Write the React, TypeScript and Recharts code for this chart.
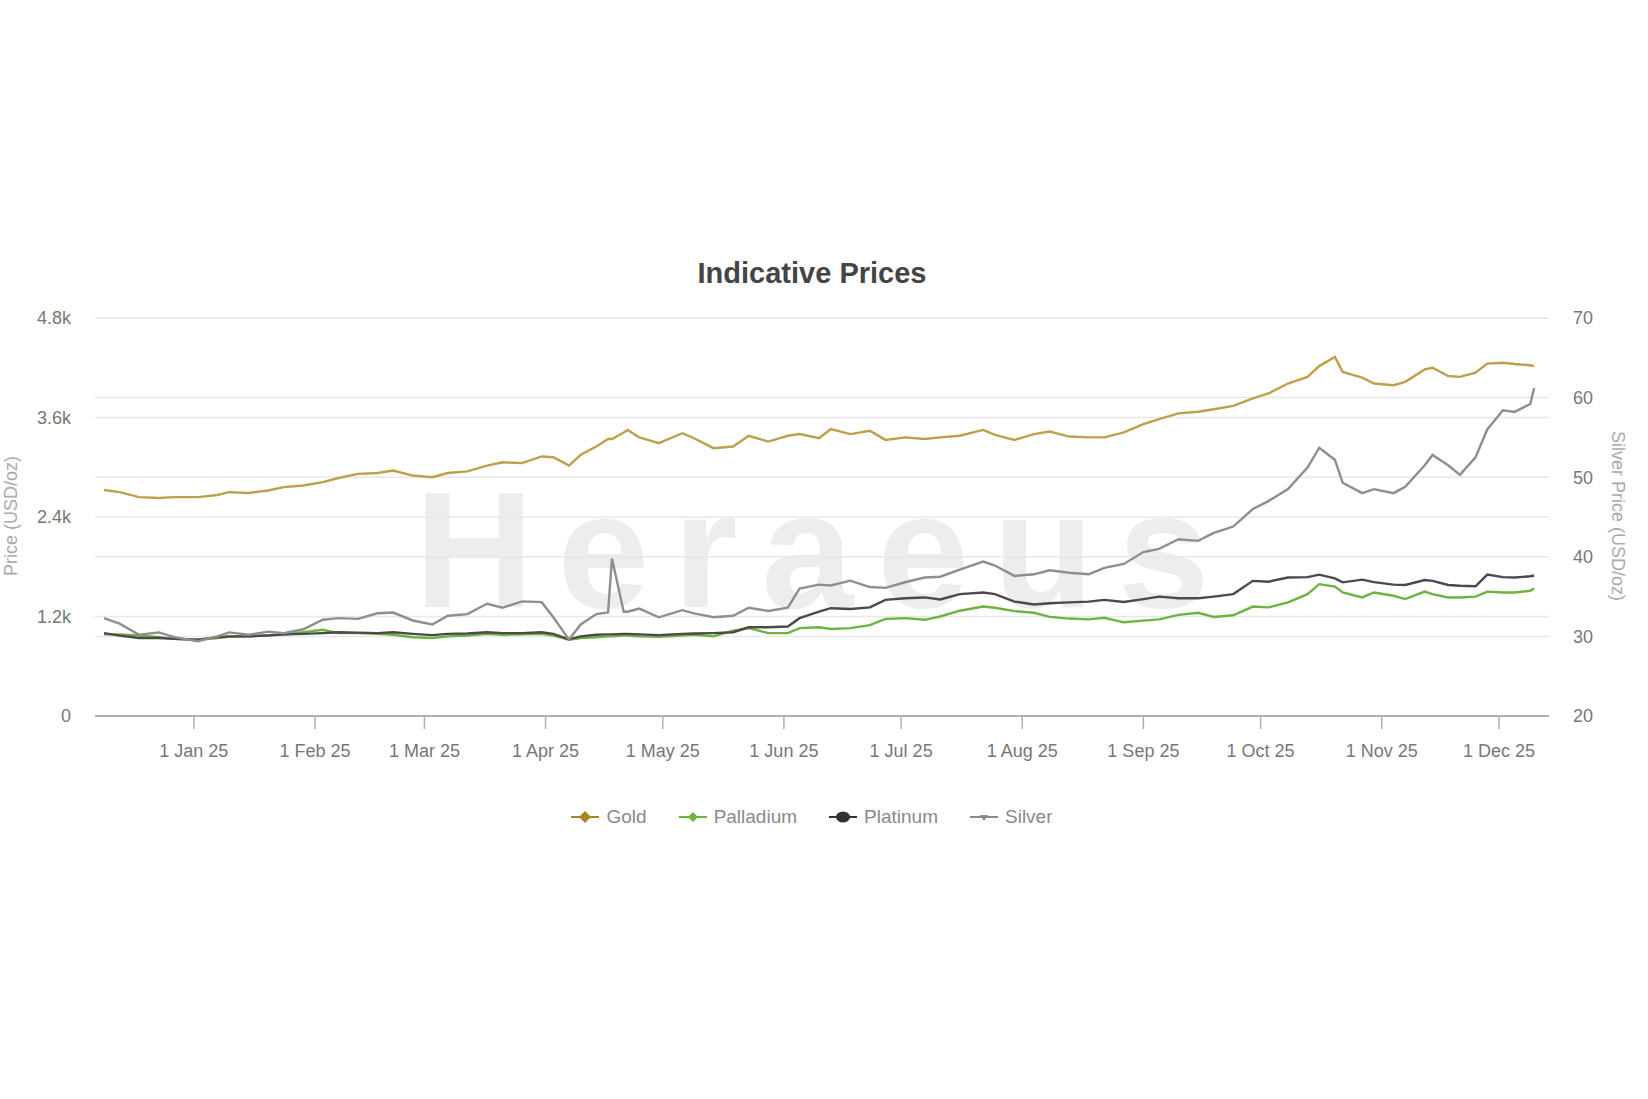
import React from 'react';
import { LineChart, Line, XAxis, YAxis, CartesianGrid } from 'recharts';

const dates = [
  '2024-12-09', '2024-12-13', '2024-12-18', '2024-12-23', '2024-12-27', '2025-01-02', '2025-01-07', '2025-01-10', '2025-01-15', '2025-01-20',
  '2025-01-24', '2025-01-29', '2025-02-03', '2025-02-07', '2025-02-12', '2025-02-17', '2025-02-21', '2025-02-26', '2025-03-03', '2025-03-07',
  '2025-03-12', '2025-03-17', '2025-03-21', '2025-03-26', '2025-03-31', '2025-04-03', '2025-04-07', '2025-04-10', '2025-04-14', '2025-04-17',
  '2025-04-18', '2025-04-21', '2025-04-22', '2025-04-25', '2025-04-30', '2025-05-06', '2025-05-09', '2025-05-14', '2025-05-19', '2025-05-23',
  '2025-05-28', '2025-06-02', '2025-06-05', '2025-06-10', '2025-06-13', '2025-06-18', '2025-06-23', '2025-06-27', '2025-07-02', '2025-07-07',
  '2025-07-11', '2025-07-16', '2025-07-22', '2025-07-25', '2025-07-30', '2025-08-04', '2025-08-08', '2025-08-13', '2025-08-18', '2025-08-22',
  '2025-08-27', '2025-09-01', '2025-09-05', '2025-09-10', '2025-09-15', '2025-09-19', '2025-09-24', '2025-09-29', '2025-10-03', '2025-10-08',
  '2025-10-13', '2025-10-16', '2025-10-20', '2025-10-22', '2025-10-27', '2025-10-30', '2025-11-04', '2025-11-07', '2025-11-12', '2025-11-14',
  '2025-11-18', '2025-11-21', '2025-11-25', '2025-11-28', '2025-12-02', '2025-12-05', '2025-12-09', '2025-12-10',
];

const gold = [
  2726, 2700, 2640, 2630, 2640, 2640, 2665, 2700, 2690, 2720,
  2760, 2780, 2820, 2870, 2920, 2930, 2960, 2900, 2880, 2930,
  2950, 3020, 3060, 3050, 3130, 3120, 3020, 3150, 3250, 3340,
  3340, 3420, 3450, 3360, 3290, 3410, 3350, 3230, 3250, 3380,
  3310, 3380, 3400, 3350, 3460, 3400, 3440, 3330, 3360, 3340,
  3360, 3380, 3450, 3390, 3330, 3400, 3430, 3370, 3360, 3360,
  3420, 3520, 3580, 3650, 3670, 3700, 3740, 3830, 3890, 4010,
  4090, 4220, 4330, 4150, 4080, 4010, 3990, 4030, 4180, 4200,
  4100, 4090, 4140, 4250, 4260, 4245, 4230, 4220,
];

const palladium = [
  985, 985, 970, 950, 930, 920, 940, 955, 960, 975,
  980, 1010, 1040, 1000, 1000, 990, 980, 950, 940, 960,
  970, 990, 980, 985, 990, 970, 920, 940, 950, 960,
  960, 970, 970, 960, 955, 970, 980, 960, 1030, 1060,
  1000, 1000, 1060, 1070, 1050, 1060, 1095, 1170, 1180, 1160,
  1200, 1270, 1320, 1305, 1265, 1245, 1195, 1175, 1165, 1185,
  1130, 1150, 1165, 1220, 1245, 1195, 1215, 1320, 1310, 1370,
  1470, 1590, 1560, 1490, 1430, 1490, 1450, 1410, 1500, 1470,
  1430, 1430, 1440, 1500, 1490, 1490, 1510, 1540,
];

const platinum = [
  1000, 970, 940, 940, 930, 920, 950, 960, 960, 970,
  985, 990, 1000, 1010, 1005, 1000, 1010, 990, 975, 990,
  995, 1010, 1000, 1000, 1010, 990, 925, 960, 980, 985,
  985, 990, 990, 985, 975, 990, 995, 1000, 1010, 1070,
  1070, 1080, 1180, 1260, 1300, 1290, 1310, 1400, 1420, 1430,
  1405, 1470, 1490, 1470, 1380, 1345, 1360, 1370, 1380, 1400,
  1375, 1410, 1440, 1420, 1420, 1440, 1470, 1630, 1620, 1670,
  1675, 1705, 1660, 1612, 1645, 1615, 1585, 1580, 1640, 1630,
  1580, 1570, 1565, 1705, 1675, 1670, 1685, 1695,
];

const silver = [
  32.3, 31.6, 30.2, 30.5, 29.9, 29.4, 30.0, 30.5, 30.2, 30.6,
  30.4, 30.9, 32.1, 32.3, 32.2, 32.9, 33.0, 32.0, 31.5, 32.6,
  32.8, 34.1, 33.6, 34.4, 34.3, 32.4, 29.6, 31.5, 32.8, 33.0,
  39.8, 33.1, 33.1, 33.5, 32.4, 33.3, 32.9, 32.4, 32.6, 33.6,
  33.2, 33.6, 36.0, 36.5, 36.4, 37.0, 36.2, 36.1, 36.8, 37.4,
  37.5, 38.4, 39.4, 38.9, 37.6, 37.8, 38.3, 38.0, 37.8, 38.6,
  39.1, 40.6, 41.0, 42.2, 42.0, 43.0, 43.8, 46.0, 47.0, 48.5,
  51.2, 53.7, 52.2, 49.3, 48.0, 48.5, 48.0, 48.8, 51.5, 52.8,
  51.5, 50.3, 52.5, 56.0, 58.4, 58.2, 59.2, 61.2,
];

const monthTicks = [
  '2025-01-01', '2025-02-01', '2025-03-01', '2025-04-01', '2025-05-01', '2025-06-01',
  '2025-07-01', '2025-08-01', '2025-09-01', '2025-10-01', '2025-11-01', '2025-12-01',
];
const monthLabels = [
  '1 Jan 25', '1 Feb 25', '1 Mar 25', '1 Apr 25', '1 May 25', '1 Jun 25',
  '1 Jul 25', '1 Aug 25', '1 Sep 25', '1 Oct 25', '1 Nov 25', '1 Dec 25',
];
const leftTicks = [0, 1200, 2400, 3600, 4800];
const leftTickLabels = ['0', '1.2k', '2.4k', '3.6k', '4.8k'];
const rightTicks = [20, 30, 40, 50, 60, 70];

const seriesNames = ['Gold', 'Palladium', 'Platinum', 'Silver'];
const seriesColors = ['#bf9f4a', '#6db33f', '#4a4a4a', '#8e8e8e'];
const legendColors = ['#a8861f', '#6db33f', '#333333', '#8a8a8a'];

const BASE = Date.UTC(2025, 0, 1);
const dayOf = (s: string) => (Date.parse(s + 'T00:00:00Z') - BASE) / 86400000;

const rows = dates.map((d, i) => ({
  x: dayOf(d),
  gold: gold[i],
  palladium: palladium[i],
  platinum: platinum[i],
  silver: silver[i],
}));

const tickDays = monthTicks.map(dayOf);

const FONT = '"Liberation Sans", Arial, Helvetica, sans-serif';

function LegendSymbol({ kind, color }: { kind: number; color: string }) {
  const cx = 14;
  const cy = 8;
  let marker: React.ReactNode = null;
  if (kind === 0 || kind === 1) {
    const r = kind === 0 ? 6 : 5;
    marker = <polygon points={`${cx},${cy - r} ${cx + r},${cy} ${cx},${cy + r} ${cx - r},${cy}`} fill={color} />;
  } else if (kind === 2) {
    marker = <ellipse cx={cx} cy={cy} rx={7} ry={5.5} fill={color} />;
  } else {
    marker = <polygon points={`${cx - 4},${cy - 2} ${cx + 4},${cy - 2} ${cx},${cy + 4}`} fill={color} />;
  }
  return (
    <svg width={28} height={16} style={{ display: 'block' }}>
      <line x1={0} y1={cy} x2={28} y2={cy} stroke={color} strokeWidth={2} />
      {marker}
    </svg>
  );
}

export default function App() {
  return (
    <div style={{ position: 'absolute', left: 0, top: 0, width: 1648, height: 1099, background: '#fff', fontFamily: FONT }}>
      <svg width={1648} height={1099} style={{ position: 'absolute', left: 0, top: 0 }}>
        <text x={824} y={607} textAnchor="middle" fontSize={165} fontWeight="bold" fill="#ededed" letterSpacing={24} fontFamily={FONT}>
          Heraeus
        </text>
      </svg>
      <div style={{ position: 'absolute', left: 0, top: 0 }}>
        <LineChart
          width={1648}
          height={1099}
          data={rows}
          margin={{ top: 318, right: 39, bottom: 323, left: 35 }}
        >
          <CartesianGrid yAxisId="left" vertical={false} stroke="#e8e8e8" strokeWidth={1.5} />
          <CartesianGrid yAxisId="right" vertical={false} stroke="#e8e8e8" strokeWidth={1.5} />
          <XAxis
            dataKey="x"
            type="number"
            domain={[-25.3, 346.8]}
            allowDataOverflow
            ticks={tickDays}
            tickFormatter={(v: number) => {
              const i = tickDays.indexOf(v);
              return i >= 0 ? monthLabels[i] : '';
            }}
            axisLine={{ stroke: '#b0b0b0', strokeWidth: 2 }}
            tickLine={{ stroke: '#b0b0b0', strokeWidth: 1.5 }}
            tickSize={13}
            tickMargin={15}
            tick={{ fill: '#777', fontSize: 18, fontFamily: FONT }}
            height={60}
            interval={0}
          />
          <YAxis
            yAxisId="left"
            orientation="left"
            domain={[0, 4800]}
            ticks={leftTicks}
            tickFormatter={(v: number) => leftTickLabels[leftTicks.indexOf(v)]}
            axisLine={false}
            tickLine={false}
            tickSize={6}
            tickMargin={18}
            width={60}
            tick={{ fill: '#777', fontSize: 18, fontFamily: FONT }}
            interval={0}
          />
          <YAxis
            yAxisId="right"
            orientation="right"
            domain={[20, 70]}
            ticks={rightTicks}
            axisLine={false}
            tickLine={false}
            tickSize={6}
            tickMargin={18}
            width={60}
            tick={{ fill: '#777', fontSize: 18, fontFamily: FONT }}
            interval={0}
          />
          <Line yAxisId="left" type="linear" dataKey="gold" stroke={seriesColors[0]} strokeWidth={2.4} dot={false} isAnimationActive={false} />
          <Line yAxisId="left" type="linear" dataKey="palladium" stroke={seriesColors[1]} strokeWidth={2.4} dot={false} isAnimationActive={false} />
          <Line yAxisId="left" type="linear" dataKey="platinum" stroke={seriesColors[2]} strokeWidth={2.4} dot={false} isAnimationActive={false} />
          <Line yAxisId="right" type="linear" dataKey="silver" stroke={seriesColors[3]} strokeWidth={2.4} dot={false} isAnimationActive={false} />
        </LineChart>
      </div>

      <div style={{ position: 'absolute', left: 0, width: 1624, top: 257, textAlign: 'center', fontSize: 29, fontWeight: 'bold', color: '#444' }}>
        Indicative Prices
      </div>

      <div style={{ position: 'absolute', left: 11, top: 516, transform: 'translate(-50%, -50%) rotate(-90deg)', whiteSpace: 'nowrap', fontSize: 18, color: '#aaa' }}>
        Price (USD/oz)
      </div>
      <div style={{ position: 'absolute', left: 1617, top: 516, transform: 'translate(-50%, -50%) rotate(90deg)', whiteSpace: 'nowrap', fontSize: 18, color: '#aaa' }}>
        Silver Price (USD/oz)
      </div>

      <div style={{ position: 'absolute', left: 0, width: 1624, top: 805, display: 'flex', justifyContent: 'center', alignItems: 'center', gap: 32 }}>
        {seriesNames.map((n, i) => (
          <div key={n} style={{ display: 'flex', alignItems: 'center', gap: 7 }}>
            <LegendSymbol kind={i} color={legendColors[i]} />
            <span style={{ fontSize: 19, color: '#8a8a8a', lineHeight: '24px' }}>{n}</span>
          </div>
        ))}
      </div>
    </div>
  );
}
